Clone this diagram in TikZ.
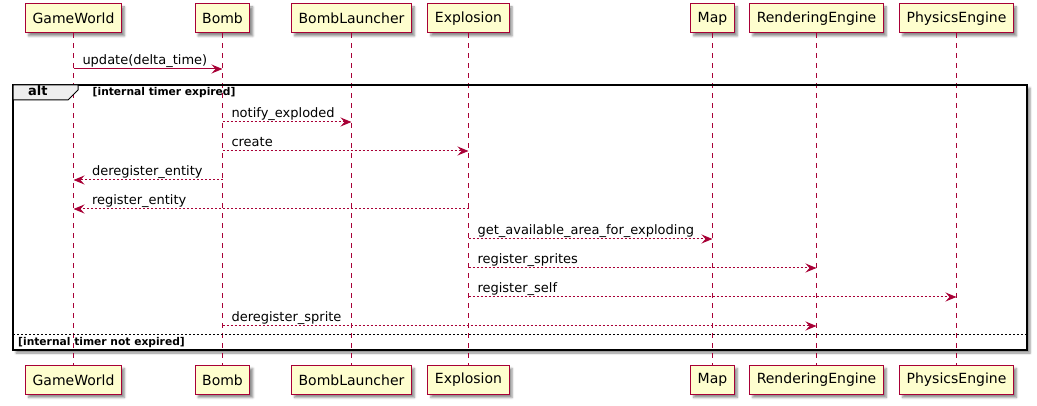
\documentclass[tikz,border=0pt]{standalone}
\usepackage{fontspec}
\setmainfont{DejaVu Sans}
\usetikzlibrary{arrows.meta,shadows.blur}
\definecolor{SEQred}{HTML}{A80036}
\definecolor{SEQcream}{HTML}{FEFECE}
\definecolor{SEQtab}{HTML}{EEEEEE}
\tikzset{
  seqshadow/.style={blur shadow={shadow xshift=3pt, shadow yshift=-3pt, shadow blur steps=4, shadow opacity=45}},
  actorbox/.style={draw=SEQred, fill=SEQcream, line width=1pt, minimum height=29pt, inner xsep=7pt, font=\fontsize{14}{16}\selectfont, seqshadow},
  lifeline/.style={draw=SEQred, line width=1pt, dash pattern=on 5pt off 5pt},
  callarr/.style={draw=SEQred, line width=1pt, -{Stealth[length=11pt, width=9pt, inset=4pt]}},
  replyarr/.style={callarr, dash pattern=on 2pt off 2pt},
  msglabel/.style={anchor=base west, inner sep=0pt, yshift=4.5pt, font=\fontsize{13}{15}\selectfont, text=black},
  msgright/.style={msglabel, pos=0, xshift=8.5pt},
  msgleft/.style={msglabel, pos=1, xshift=18pt},
  guardlabel/.style={anchor=base west, inner sep=0pt, font=\fontsize{10.7}{13}\selectfont\bfseries}
}

\begin{document}
\begin{tikzpicture}[x=1pt, y=-1pt]
\useasboundingbox (0,0) rectangle (1037,406);
% participants, top and bottom
\foreach \id/\name/\xpos in {gw/GameWorld/73.5, bomb/Bomb/222.5, launcher/BombLauncher/351.5, expl/Explosion/468.5, map/Map/712.5, render/RenderingEngine/816.5, phys/PhysicsEngine/956.5} {
  \node[actorbox] (\id) at (\xpos,18.5) {\name};
  \node[actorbox] (\id-b) at (\xpos,380) {\name};
}
% alt frame background
\path[fill=white, seqshadow] (13,85) rectangle (1027,350);
% lifelines
\foreach \id in {gw,bomb,launcher,expl,map,render,phys}
  \draw[lifeline] (\id) -- (\id-b);
% alt frame
\draw[line width=1.5pt] (13,85) rectangle (1027,350);
\draw[fill=SEQtab, line width=1pt] (13,85) -- (78,85) -- (78,90) -- (68,100) -- (13,100) -- cycle;
\node[guardlabel, font=\fontsize{13}{15}\selectfont\bfseries] (alt) at (28,96) {alt};
\node[guardlabel] (cond) at (92.5,95.5) {[internal timer expired]};
\draw[line width=1pt, dash pattern=on 2pt off 2pt] (13,335) -- (1027,335);
\node[guardlabel] (elsecond) at (18,345.5) {[internal timer not expired]};
% messages
\draw[callarr] (gw |- 0,69) -- node[msgright] {update(delta\_time)} (bomb |- 0,69);
\draw[replyarr] (bomb |- 0,122) -- node[msgright] {notify\_exploded} (launcher |- 0,122);
\draw[replyarr] (bomb |- 0,151) -- node[msgright] {create} (expl |- 0,151);
\draw[replyarr] (bomb |- 0,180) -- node[msgleft] {deregister\_entity} (gw |- 0,180);
\draw[replyarr] (expl |- 0,209) -- node[msgleft] {register\_entity} (gw |- 0,209);
\draw[replyarr] (expl |- 0,239) -- node[msgright] {get\_available\_area\_for\_exploding} (map |- 0,239);
\draw[replyarr] (expl |- 0,268) -- node[msgright] {register\_sprites} (render |- 0,268);
\draw[replyarr] (expl |- 0,297) -- node[msgright] {register\_self} (phys |- 0,297);
\draw[replyarr] (bomb |- 0,326) -- node[msgright] {deregister\_sprite} (render |- 0,326);
\end{tikzpicture}
\end{document}
